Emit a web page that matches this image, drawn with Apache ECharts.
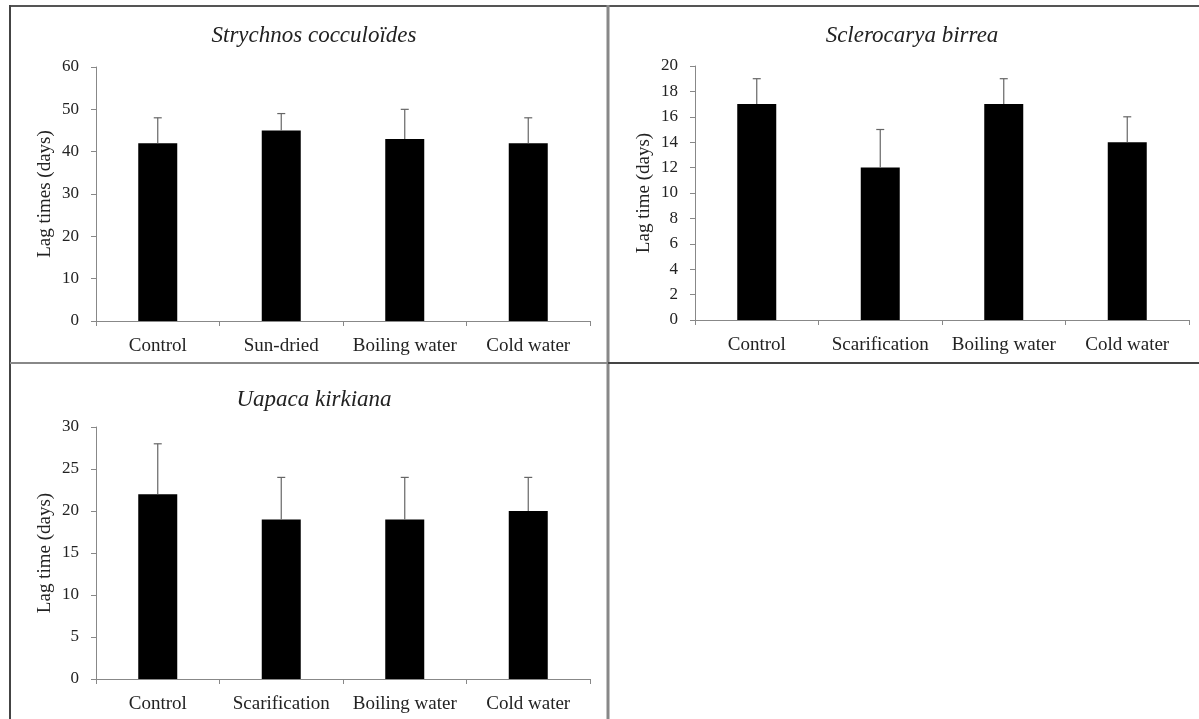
<!DOCTYPE html>
<html>
<head>
<meta charset="utf-8">
<script src="https://cdn.jsdelivr.net/npm/echarts@6/dist/echarts.min.js"></script>
<style>
html,body{margin:0;padding:0;background:#fff;}
#chart{width:1199px;height:719px;}
</style>
</head>
<body>
<div id="chart"></div>
<script>
// ---- data ----
var titles = ['Strychnos cocculoïdes', 'Sclerocarya birrea', 'Uapaca kirkiana'];
var yNames = ['Lag times (days)', 'Lag time (days)', 'Lag time (days)'];
var catsStrychnos = ['Control', 'Sun-dried', 'Boiling water', 'Cold water'];
var catsSclerocarya = ['Control', 'Scarification', 'Boiling water', 'Cold water'];
var catsUapaca = ['Control', 'Scarification', 'Boiling water', 'Cold water'];
var meanStrychnos = [42, 45, 43, 42];
var upperStrychnos = [48, 49, 50, 48];
var meanSclerocarya = [17, 12, 17, 14];
var upperSclerocarya = [19, 15, 19, 16];
var meanUapaca = [22, 19, 19, 20];
var upperUapaca = [28, 24, 24, 24];
var yMax = [60, 20, 30];
var yStep = [10, 2, 5];

var FONT = "'Liberation Serif', 'DejaVu Serif', serif";
var chart = echarts.init(document.getElementById('chart'), null, {renderer: 'canvas'});

var grids = [
  {left: 96, top: 67, width: 494, height: 254},
  {left: 695, top: 66, width: 494, height: 254},
  {left: 96, top: 427, width: 494, height: 252}
];
var catsList = [catsStrychnos, catsSclerocarya, catsUapaca];
var meansList = [meanStrychnos, meanSclerocarya, meanUapaca];
var uppersList = [upperStrychnos, upperSclerocarya, upperUapaca];
var titlePos = [[309, 19], [907, 19], [309, 383]];

var xAxes = [], yAxes = [], series = [], titleOpts = [];
for (var i = 0; i < 3; i++) {
  titleOpts.push({
    text: titles[i], left: titlePos[i][0], top: titlePos[i][1], textAlign: 'center',
    textStyle: {fontFamily: FONT, fontStyle: 'italic', fontWeight: 'normal', fontSize: 23, color: '#222'}
  });
  xAxes.push({
    type: 'category', gridIndex: i, data: catsList[i],
    axisLine: {lineStyle: {color: '#888', width: 1}},
    axisTick: {show: true, length: 5, lineStyle: {color: '#888'}},
    axisLabel: {fontFamily: FONT, fontSize: 19, color: '#222', margin: 16, interval: 0}
  });
  yAxes.push({
    type: 'value', gridIndex: i, min: 0, max: yMax[i], interval: yStep[i],
    name: yNames[i], nameLocation: 'middle', nameRotate: 90, nameGap: 41,
    nameTextStyle: {fontFamily: FONT, fontSize: 19, color: '#222'},
    axisLine: {show: true, lineStyle: {color: '#888', width: 1}},
    axisTick: {show: true, length: 5, lineStyle: {color: '#888'}},
    axisLabel: {fontFamily: FONT, fontSize: 17, color: '#222', margin: 17},
    splitLine: {show: false}
  });
  series.push({
    type: 'bar', xAxisIndex: i, yAxisIndex: i, data: meansList[i],
    barWidth: 39, itemStyle: {color: '#000'}, silent: true
  });
  var errData = meansList[i].map(function (m, k) { return [k, m, uppersList[i][k]]; });
  series.push({
    type: 'custom', xAxisIndex: i, yAxisIndex: i, data: errData, silent: true, z: 10,
    renderItem: function (params, api) {
      var base = api.coord([api.value(0), api.value(1)]);
      var top = api.coord([api.value(0), api.value(2)]);
      var cap = 4;
      return {
        type: 'group',
        children: [
          {type: 'line', shape: {x1: base[0], y1: base[1], x2: top[0], y2: top[1]}, style: {stroke: '#666', lineWidth: 1.2}},
          {type: 'line', shape: {x1: top[0] - cap, y1: top[1], x2: top[0] + cap, y2: top[1]}, style: {stroke: '#666', lineWidth: 1.2}}
        ]
      };
    }
  });
}

var borderGraphics = [
  {type: 'line', shape: {x1: 10, y1: 6, x2: 1199, y2: 6}, style: {stroke: '#555', lineWidth: 2}},
  {type: 'line', shape: {x1: 10, y1: 5, x2: 10, y2: 719}, style: {stroke: '#444', lineWidth: 2}},
  {type: 'line', shape: {x1: 608, y1: 5, x2: 608, y2: 719}, style: {stroke: '#888', lineWidth: 3}},
  {type: 'line', shape: {x1: 10, y1: 363, x2: 608, y2: 363}, style: {stroke: '#888', lineWidth: 2}},
  {type: 'line', shape: {x1: 608, y1: 363, x2: 1199, y2: 363}, style: {stroke: '#444', lineWidth: 2}}
];

chart.setOption({
  animation: false,
  backgroundColor: '#fff',
  title: titleOpts,
  grid: grids,
  xAxis: xAxes,
  yAxis: yAxes,
  series: series,
  graphic: borderGraphics
});
</script>
</body>
</html>
